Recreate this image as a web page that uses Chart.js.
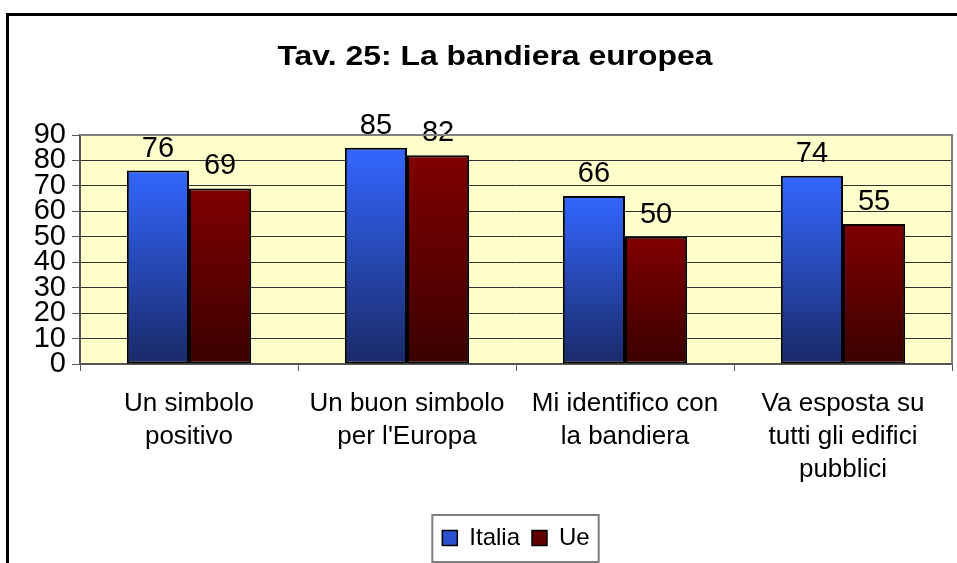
<!DOCTYPE html>
<html>
<head>
<meta charset="utf-8">
<title>Tav. 25: La bandiera europea</title>
<script src="https://cdn.jsdelivr.net/npm/chart.js@4.4.1/dist/chart.umd.min.js"></script>
<style>
  html, body { margin: 0; padding: 0; background: #fff; }
  #wrap { position: relative; width: 957px; height: 563px; }
</style>
</head>
<body>
<div id="wrap"><canvas id="gr1"></canvas></div>
<script>
// Tav. 25 - la bandiera europea (Italia vs Ue)
const chartTitle = 'Tav. 25: La bandiera europea';
const categories = [
  ['Un simbolo', 'positivo'],
  ['Un buon simbolo', "per l'Europa"],
  ['Mi identifico con', 'la bandiera'],
  ['Va esposta su', 'tutti gli edifici', 'pubblici']
];
const seriesNames = ['Italia', 'Ue'];
const italia = [76, 85, 66, 74];
const ue = [69, 82, 50, 55];
const yTickLabels = ['0', '10', '20', '30', '40', '50', '60', '70', '80', '90'];

const FONT = 'Arial, "Liberation Sans", sans-serif';

// gradient per bar, light at the top, dark at the base
function barFill(top, bottom) {
  return function (ctx) {
    const chart = ctx.chart;
    if (!chart.chartArea || ctx.type !== 'data') return top;
    const ys = chart.scales.y;
    const v = ctx.parsed ? ctx.parsed.y : ctx.raw;
    const g = chart.ctx.createLinearGradient(0, ys.getPixelForValue(v), 0, ys.getPixelForValue(0));
    g.addColorStop(0, top);
    g.addColorStop(1, bottom);
    return g;
  };
}

const frame = {
  id: 'frame',
  beforeDraw(chart) {
    const c = chart.ctx, a = chart.chartArea;
    c.save();
    c.fillStyle = '#fff';
    c.fillRect(0, 0, chart.width, chart.height);
    c.fillStyle = '#FFFFCC';
    c.fillRect(a.left, a.top, a.right - a.left, a.bottom - a.top);
    c.restore();
  },
  afterDraw(chart) {
    const c = chart.ctx, a = chart.chartArea;
    c.save();
    // plot area border (top, right)
    c.strokeStyle = '#808080';
    c.lineWidth = 2;
    c.beginPath();
    c.moveTo(a.left, a.top);
    c.lineTo(a.right, a.top);
    c.lineTo(a.right, a.bottom);
    c.stroke();
    // outer chart border
    c.strokeStyle = '#000';
    c.lineWidth = 3;
    c.strokeRect(7.5, 14.5, chart.width + 20, chart.height + 20);
    // title (the original is a bit wide, stretch it)
    c.fillStyle = '#000';
    c.font = 'bold 28px ' + FONT;
    c.textAlign = 'center';
    c.textBaseline = 'alphabetic';
    c.translate(495, 65);
    c.scale(1.14, 1);
    c.fillText(chartTitle, 0, 0);
    c.setTransform(1, 0, 0, 1, 0, 0);
    // legend box
    const hb = chart.legend.legendHitBoxes;
    if (hb && hb.length) {
      const l = Math.min(...hb.map(h => h.left));
      const r = Math.max(...hb.map(h => h.left + h.width));
      const mid = hb[0].top + hb[0].height / 2;
      c.strokeStyle = '#808080';
      c.lineWidth = 2;
      c.strokeRect(l - 10, mid - 23, r - l + 19, 47);
    }
    c.restore();
  }
};

const valueLabels = {
  id: 'valueLabels',
  afterDatasetsDraw(chart) {
    const c = chart.ctx;
    c.save();
    c.font = '29px ' + FONT;
    c.fillStyle = '#000';
    c.textAlign = 'center';
    c.textBaseline = 'alphabetic';
    chart.data.datasets.forEach((ds, i) => {
      chart.getDatasetMeta(i).data.forEach((bar, j) => {
        c.fillText(String(ds.data[j]), bar.x, bar.y - 14);
      });
    });
    c.restore();
  }
};

const legendColors = ['#2A52D0', '#600000'];

const config = {
  type: 'bar',
  data: {
    labels: categories,
    datasets: [
      {
        label: seriesNames[0],
        data: italia,
        backgroundColor: barFill('#3366FF', '#1A2A68'),
        borderColor: '#000',
        borderWidth: 2,
        borderSkipped: false
      },
      {
        label: seriesNames[1],
        data: ue,
        backgroundColor: barFill('#800000', '#3A0000'),
        borderColor: '#000',
        borderWidth: 2,
        borderSkipped: false
      }
    ]
  },
  options: {
    responsive: false,
    animation: false,
    devicePixelRatio: 1,
    layout: { padding: { top: 135, right: 5, bottom: 3, left: 0 } },
    datasets: { bar: { categoryPercentage: 0.57, barPercentage: 1 } },
    scales: {
      x: {
        offset: true,
        grid: { display: true, drawOnChartArea: false, color: '#555', tickLength: 7, offset: true },
        border: { display: true, color: '#555', width: 2 },
        ticks: {
          color: '#000',
          font: { family: FONT, size: 26, lineHeight: 1.27 },
          padding: 16,
          maxRotation: 0,
          autoSkip: false
        },
        afterFit(s) { s.height = 150; }
      },
      y: {
        min: 0,
        max: 90,
        ticks: {
          stepSize: 10,
          autoSkip: false,
          color: '#000',
          font: { family: FONT, size: 29 },
          padding: 6,
          callback: (v, i) => yTickLabels[i]
        },
        grid: { color: '#333', lineWidth: 1, tickLength: 8, tickColor: '#555' },
        border: { display: true, color: '#555', width: 2 },
        afterFit(s) { s.width = 80; }
      }
    },
    plugins: {
      title: { display: false },
      tooltip: { enabled: false },
      legend: {
        position: 'bottom',
        fullSize: false,
        labels: {
          color: '#000',
          font: { family: FONT, size: 24 },
          boxWidth: 15,
          boxHeight: 15,
          padding: 12,
          generateLabels: (chart) => chart.data.datasets.map((ds, i) => ({
            text: ds.label,
            fillStyle: legendColors[i],
            strokeStyle: '#000',
            lineWidth: 1.5,
            datasetIndex: i
          }))
        }
      }
    }
  },
  plugins: [frame, valueLabels]
};

const canv = document.getElementById('gr1');
canv.width = 957;
canv.height = 563;
const graph1 = new Chart(canv.getContext('2d'), config);
</script>
</body>
</html>
